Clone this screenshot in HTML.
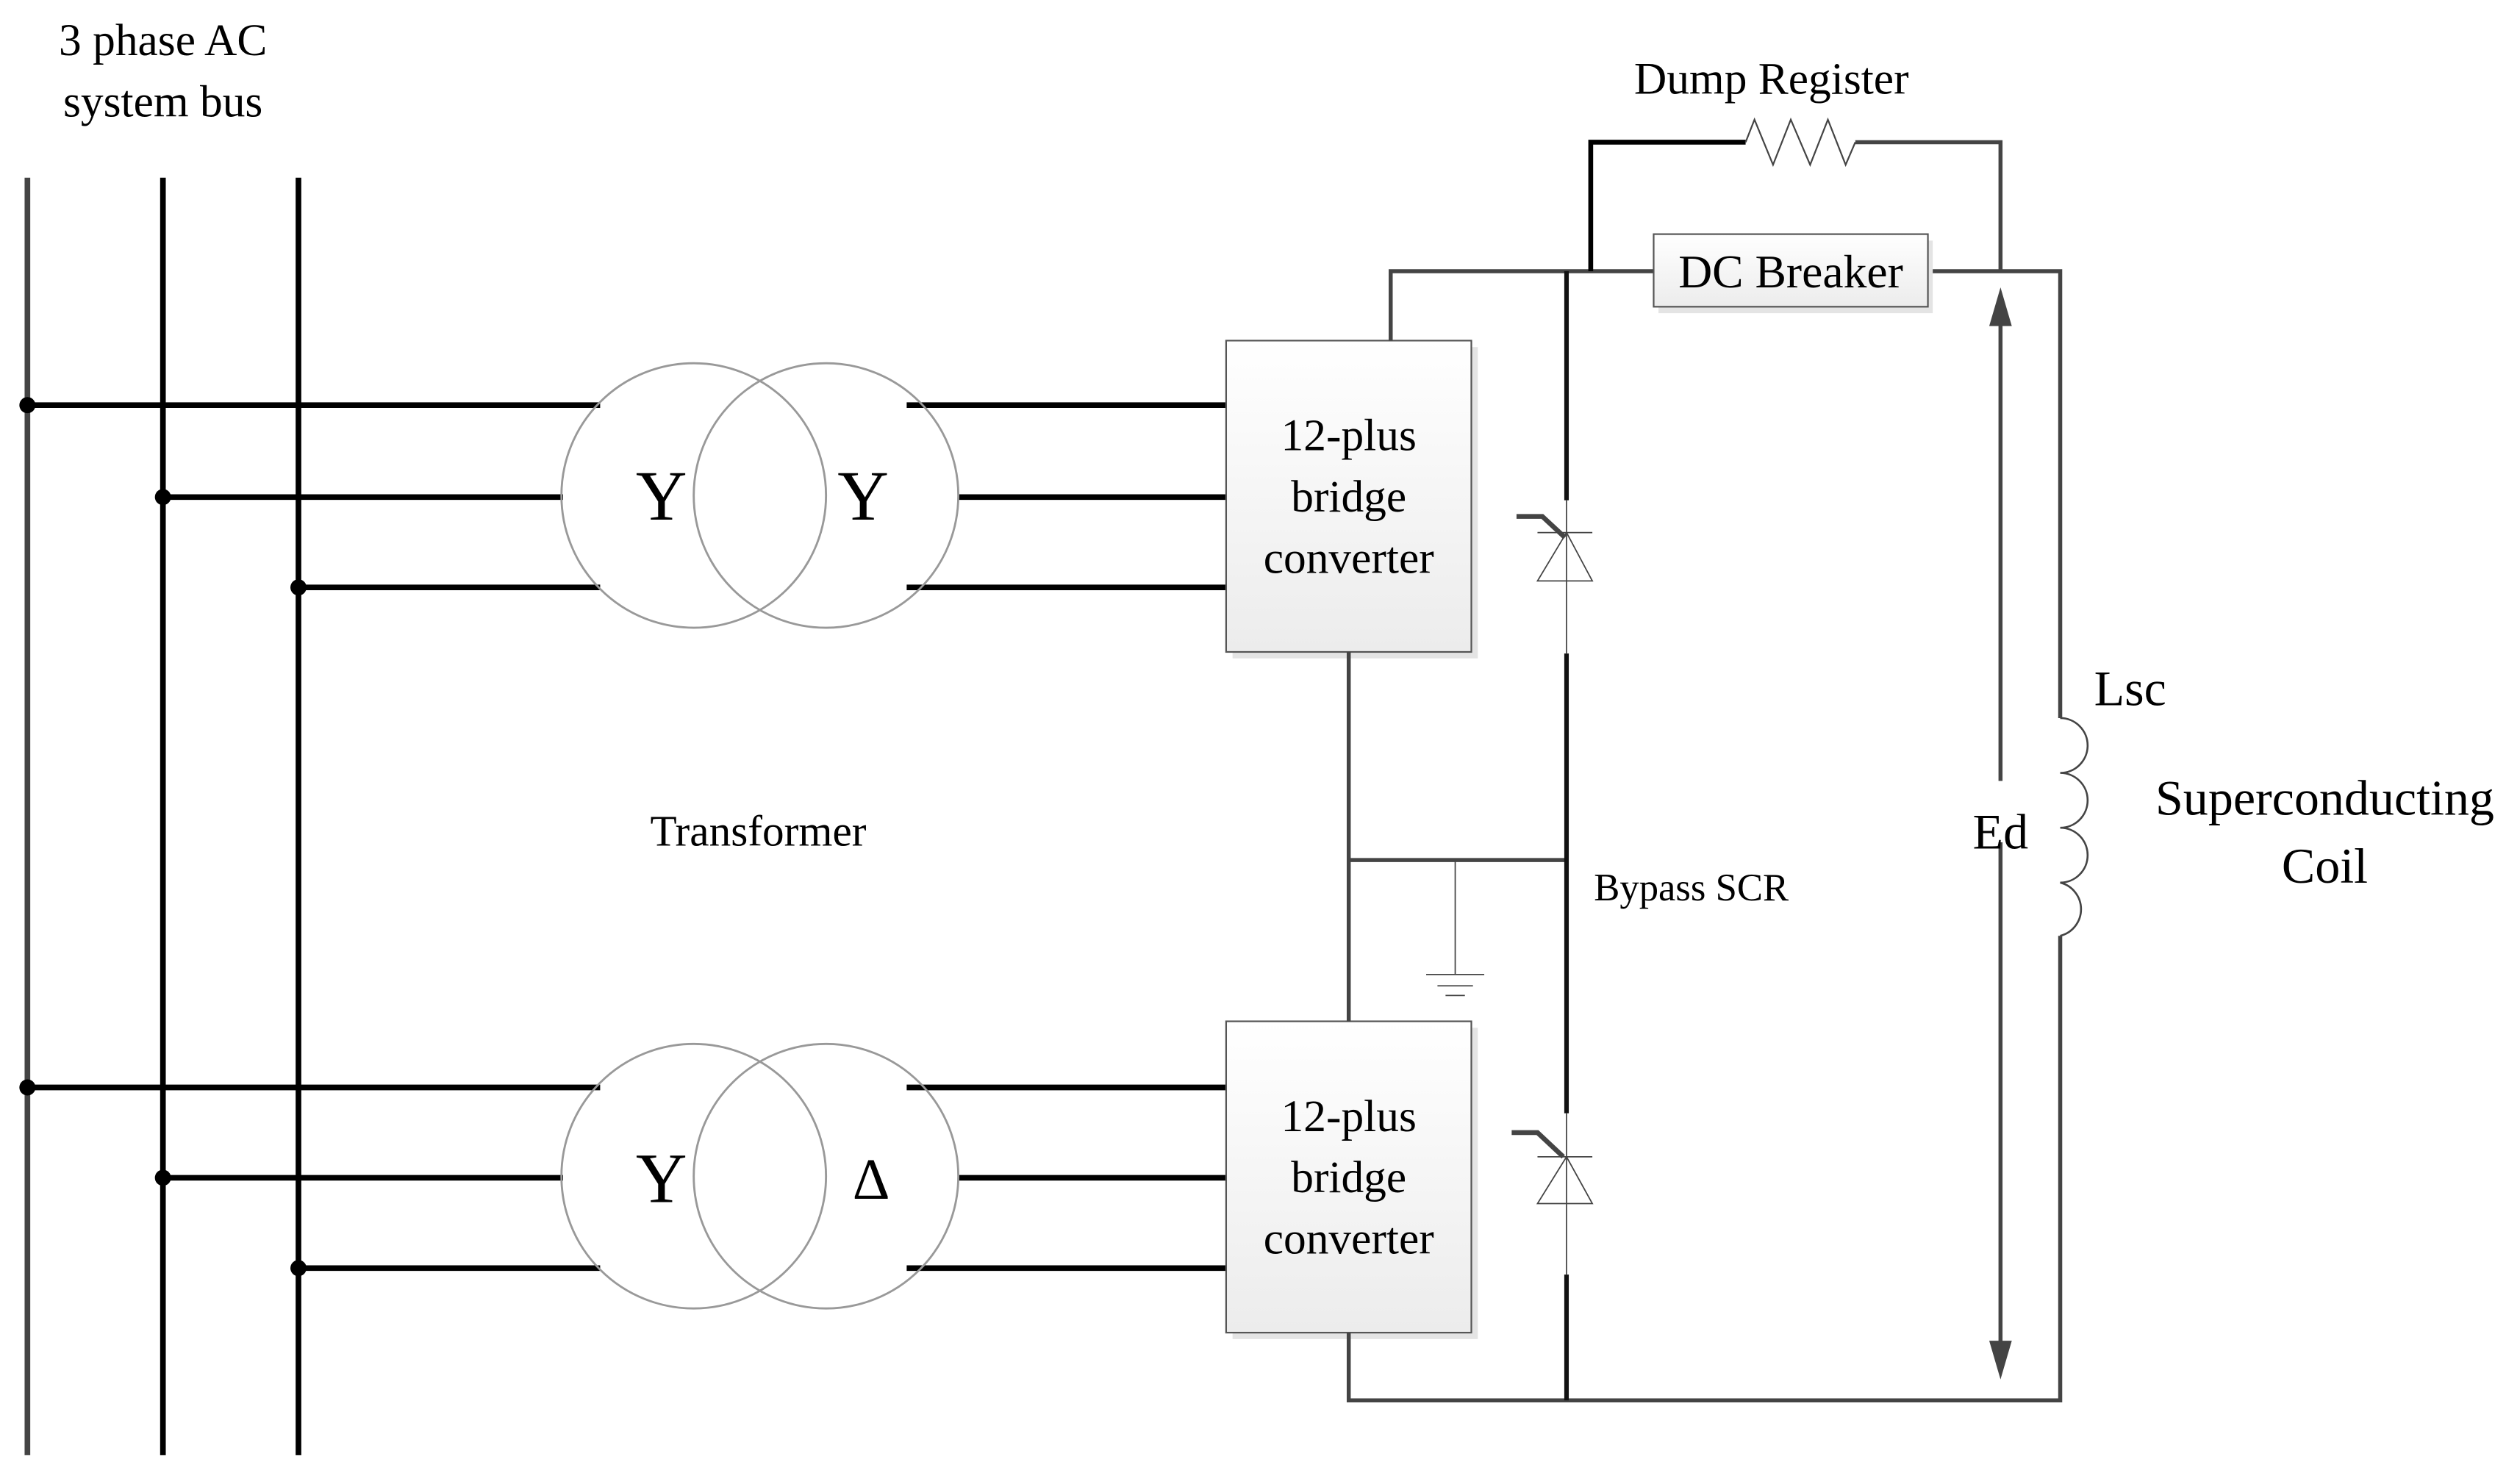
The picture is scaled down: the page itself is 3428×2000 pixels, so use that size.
<!DOCTYPE html>
<html><head><style>html,body{margin:0;padding:0;background:#fff}svg{display:block}svg text{font-family:"Liberation Serif","Times New Roman",serif}</style></head>
<body>
<svg width="3428" height="2000" viewBox="0 0 1562 911" xmlns="http://www.w3.org/2000/svg" style="font-family:'Liberation Serif',serif">
<defs>
<linearGradient id="g" x1="0" y1="0" x2="0" y2="1"><stop offset="0" stop-color="#fff"/><stop offset="1" stop-color="#ececec"/></linearGradient>
</defs>
<rect width="1562" height="911" fill="#fff"/>
<g stroke-width="3.5">
<line x1="17" y1="110" x2="17" y2="902" stroke="#444"/>
<line x1="101" y1="110" x2="101" y2="902" stroke="#000"/>
<line x1="185" y1="110" x2="185" y2="902" stroke="#000"/>
</g>
<g stroke="#000" stroke-width="3.5">
<line x1="17" y1="251" x2="372" y2="251"/><line x1="101" y1="308" x2="349" y2="308"/><line x1="185" y1="364" x2="372" y2="364"/>
<line x1="562" y1="251" x2="760" y2="251"/><line x1="594" y1="308" x2="760" y2="308"/><line x1="562" y1="364" x2="760" y2="364"/>
<line x1="17" y1="674" x2="372" y2="674"/><line x1="101" y1="730" x2="349" y2="730"/><line x1="185" y1="786" x2="372" y2="786"/>
<line x1="562" y1="674" x2="760" y2="674"/><line x1="594" y1="730" x2="760" y2="730"/><line x1="562" y1="786" x2="760" y2="786"/>
</g>
<g fill="#000">
<circle cx="17" cy="251" r="5"/><circle cx="101" cy="308" r="5"/><circle cx="185" cy="364" r="5"/>
<circle cx="17" cy="674" r="5"/><circle cx="101" cy="730" r="5"/><circle cx="185" cy="786" r="5"/>
</g>
<g fill="none" stroke="#999" stroke-width="1.3">
<circle cx="430" cy="307" r="82"/><circle cx="512" cy="307" r="82"/>
<circle cx="430" cy="729" r="82"/><circle cx="512" cy="729" r="82"/>
</g>
<g font-size="44" text-anchor="middle">
<text x="410" y="322">Y</text><text x="535" y="322">Y</text>
<text x="410" y="745">Y</text><text x="540" y="743" font-size="36">Δ</text>
</g>
<rect x="764" y="215" width="152" height="193" fill="#e4e4e4"/>
<rect x="760" y="211" width="152" height="193" fill="url(#g)" stroke="#555" stroke-width="1"/>
<rect x="764" y="637" width="152" height="193" fill="#e4e4e4"/>
<rect x="760" y="633" width="152" height="193" fill="url(#g)" stroke="#555" stroke-width="1"/>
<g font-size="28" text-anchor="middle">
<text x="836" y="279">12-plus</text><text x="836" y="317">bridge</text><text x="836" y="355">converter</text>
<text x="836" y="701">12-plus</text><text x="836" y="739">bridge</text><text x="836" y="777">converter</text>
</g>
<g fill="none" stroke="#444" stroke-width="2.5">
<polyline points="862,211 862,168 1025,168"/>
<polyline points="1195,168 1277,168 1277,445"/>
<polyline points="1277,580 1277,868 836,868 836,826"/>
<line x1="836" y1="404" x2="836" y2="633"/>
<line x1="836" y1="533" x2="971" y2="533"/>
<polyline points="1150,88 1240,88 1240,168"/>
<line x1="1240" y1="195" x2="1240" y2="484"/>
<line x1="1240" y1="522" x2="1240" y2="840"/>
<polyline points="940,320 956,320 970,333" stroke-width="3"/>
<polyline points="937,702 953,702 969,717" stroke-width="3"/>
</g>
<polygon points="1240,178 1233,202 1247,202" fill="#444"/>
<polygon points="1240,855 1233,831 1247,831" fill="#444"/>
<polyline points="986,168 986,88 1082,88" fill="none" stroke="#000" stroke-width="3"/>
<polyline points="1082,88 1087.5,74 1099,102 1110,74 1122,102 1133,74 1144,102 1150,88" fill="none" stroke="#444" stroke-width="1"/>
<g stroke="#111" stroke-width="2.8">
<line x1="971" y1="168" x2="971" y2="310"/><line x1="971" y1="405" x2="971" y2="690"/><line x1="971" y1="790" x2="971" y2="868"/>
</g>
<g stroke="#444" stroke-width="0.8" fill="none">
<line x1="971" y1="310" x2="971" y2="405"/><line x1="971" y1="690" x2="971" y2="790"/>
<line x1="953" y1="330" x2="987" y2="330"/><polygon points="971,330 953,360 987,360"/>
<line x1="953" y1="717" x2="987" y2="717"/><polygon points="971,717 953,746 987,746"/>
<line x1="902" y1="533" x2="902" y2="604"/>
<line x1="884" y1="604" x2="920" y2="604"/><line x1="891" y1="611" x2="913" y2="611"/><line x1="896" y1="617" x2="908" y2="617"/>
</g>
<rect x="1028" y="149" width="170" height="45" fill="#e4e4e4"/>
<rect x="1025" y="145" width="170" height="45" fill="url(#g)" stroke="#555" stroke-width="1"/>
<text x="1110" y="178" font-size="29" text-anchor="middle">DC Breaker</text>
<path d="M1277,445 a17,17 0 0 1 0,34 a17,17 0 0 1 0,34 a17,17 0 0 1 0,34 a17,17 0 0 1 0,33" fill="none" stroke="#444" stroke-width="1.2"/>
<g font-size="28" text-anchor="middle">
<text x="101" y="34">3 phase AC</text><text x="101" y="72">system bus</text>
<text x="1098" y="58">Dump Register</text>
<text x="470" y="524" font-size="27">Transformer</text>
<text x="1240" y="526" font-size="31">Ed</text>
<text x="1441" y="505" font-size="31">Superconducting</text>
<text x="1441" y="547" font-size="31">Coil</text>
</g>
<text x="1298" y="437" font-size="31">Lsc</text>
<text x="988" y="558" font-size="24">Bypass SCR</text>
</svg>
</body></html>
